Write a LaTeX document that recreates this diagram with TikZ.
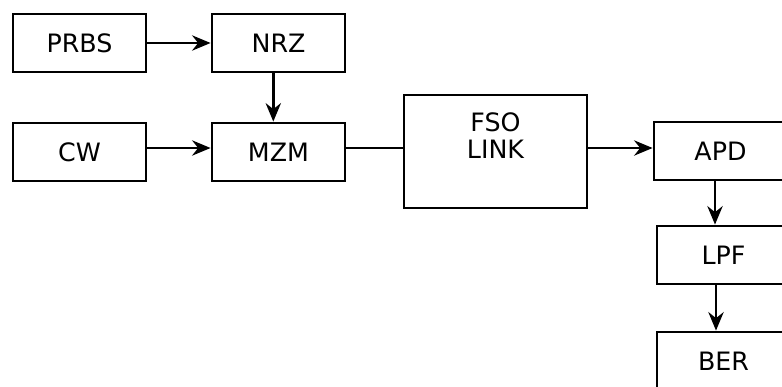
\documentclass[tikz,border=0pt]{standalone}
\usepackage{fontspec}
\setmainfont{DejaVu Sans}
\usetikzlibrary{arrows.meta}

\begin{document}
\begin{tikzpicture}[x=0.025cm, y=-0.025cm, >={Stealth[length=4.6mm, width=3.8mm]}, line width=2pt,
  blk/.style={draw, rectangle, inner sep=0pt, minimum width=3.325cm, minimum height=1.45cm,
    font=\fontsize{18}{21}\selectfont}]
  \useasboundingbox (0,0) rectangle (782,387);
  \clip (0,0) rectangle (782,387);
  % transmisor
  \node[blk] (prbs) at (79.5,43) {PRBS};
  \node[blk] (nrz) at (278.5,43) {NRZ};
  \node[blk] (cw) at (79.5,152) {CW};
  \node[blk] (mzm) at (278.5,152) {MZM};
  % canal
  \node[blk, minimum width=4.575cm, minimum height=2.825cm] (fso) at (495.5,151.5) {};
  \node[align=center, font=\fontsize{18}{19.5}\selectfont] (fsotxt) at (495.5,135.5) {FSO\\LINK};
  % receptor (cortado a la derecha)
  \node[blk] (apd) at (720.5,151) {APD};
  \node[blk] (lpf) at (723.5,255) {LPF};
  \node[blk] (ber) at (723.5,361) {BER};
  % conexiones
  \draw[->] (prbs.east) -- (nrz.west);
  \draw[->] (cw.east |- 0,148) -- (mzm.west |- 0,148);
  \draw[->] ([xshift=-0.13cm]nrz.south) -- ([xshift=-0.13cm]mzm.north);
  \draw (mzm.east |- 0,148) -- (fso.west |- 0,148);
  \draw[->] (fso.east |- 0,148) -- (apd.west |- 0,148);
  \draw[->] (apd.south -| 715,0) -- (lpf.north -| 715,0);
  \draw[->] (lpf.south -| 716,0) -- (ber.north -| 716,0);
\end{tikzpicture}
\end{document}
